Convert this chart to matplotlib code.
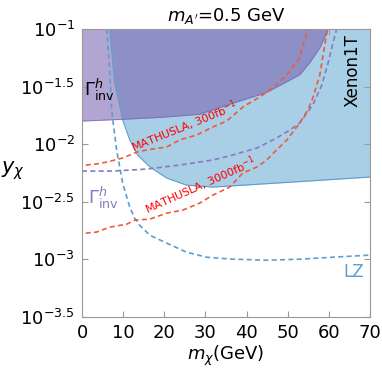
import numpy as np
import matplotlib
matplotlib.use("Agg")
import matplotlib.pyplot as plt

# curves: x = m_chi (GeV), y = log10(y_chi)
# Gamma_inv^h excluded region, lower edge (region runs up to the top)
ginv_x = [0, 11.6, 20.0, 28.6, 36.6, 44.9, 52.9, 55.5, 57.8, 59.0, 59.7]
ginv_y = [-1.799, -1.781, -1.765, -1.740, -1.645, -1.550, -1.398, -1.285, -1.163, -1.07, -1.0]

# Xenon1T excluded region, lower edge
xen_x = [6.7, 7.95, 9.9, 11.6, 13.5, 16.5, 20.6, 25.4, 31.8, 50.5, 70.0]
xen_y = [-1.0, -1.469, -1.790, -1.963, -2.094, -2.198, -2.294, -2.355, -2.372, -2.330, -2.285]

# LZ projection
lz_x = [6.0, 6.7, 7.2, 8.4, 9.9, 11.6, 12.8, 14.0, 16.5, 20.6, 25.4, 30.3, 36.6, 44.9, 52.9, 60.9, 69.9]
lz_y = [-0.998, -1.355, -1.703, -2.050, -2.338, -2.546, -2.642, -2.703, -2.790, -2.859, -2.937,
        -2.981, -2.998, -3.007, -2.998, -2.981, -2.963]

# Gamma_inv^h projection
gp_x = [0, 7.5, 15.7, 23.7, 31.8, 36.6, 42.5, 47.3, 50.5, 52.9, 56.1, 58.3, 59.7, 60.9, 61.9]
gp_y = [-2.233, -2.233, -2.216, -2.181, -2.137, -2.094, -2.033, -1.946, -1.877, -1.816,
        -1.659, -1.485, -1.311, -1.137, -0.998]

# MATHUSLA 300 fb^-1
m300_x = [0.9, 3.5, 6.0, 9.9, 11.6, 13.3, 15.7, 20.6, 23.7, 27.9, 31.8, 35.2, 39.1, 43.2,
          46.4, 49.8, 52.9, 54.9]
m300_y = [-2.181, -2.172, -2.155, -2.120, -2.094, -2.068, -2.050, -2.024, -1.963, -1.920,
          -1.850, -1.798, -1.677, -1.590, -1.511, -1.398, -1.250, -0.998]

# MATHUSLA 3000 fb^-1
m3000_x = [0.9, 3.5, 6.7, 10.9, 12.8, 16.5, 20.6, 24.5, 28.6, 31.8, 35.9, 39.1, 42.5, 44.9,
           47.3, 49.8, 52.9, 54.9, 56.1, 57.8, 59.0, 59.7]
m3000_y = [-2.772, -2.763, -2.720, -2.694, -2.659, -2.650, -2.598, -2.572, -2.511, -2.442,
           -2.372, -2.250, -2.198, -2.137, -2.050, -1.963, -1.816, -1.703, -1.598, -1.398,
           -1.137, -0.998]

ytick_pow = [-1, -1.5, -2, -2.5, -3, -3.5]
ytick_lab = [r'$10^{-1}$', r'$10^{-1.5}$', r'$10^{-2}$', r'$10^{-2.5}$', r'$10^{-3}$', r'$10^{-3.5}$']
xticks = [0, 10, 20, 30, 40, 50, 60, 70]

blue_fill = '#a8cfe6'
purple_fill = '#7861b0'
red = '#ef5a3a'

fig = plt.figure(figsize=(3.82, 3.70), dpi=100)
ax = fig.add_axes([0.2147, 0.1432, 0.7539, 0.7784])
ax.set_yscale('log')
top = 10 ** -1.0

# filled regions
ax.fill_between(xen_x, 10 ** np.array(xen_y), top, color=blue_fill, lw=0)
ax.plot(xen_x, 10 ** np.array(xen_y), color='#5c9ccc', lw=0.8)
ax.fill_between(ginv_x, 10 ** np.array(ginv_y), top, color=purple_fill, alpha=0.57, lw=0)
ax.plot(ginv_x, 10 ** np.array(ginv_y), color='#7a68b4', lw=0.7, alpha=0.8)

# dashed projections
dash = (3, 2)
ax.plot(lz_x, 10 ** np.array(lz_y), color='#5a9fd0', lw=1.2, dashes=dash)
ax.plot(gp_x, 10 ** np.array(gp_y), color='#8a78c0', lw=1.2, dashes=dash)
ax.plot(m300_x, 10 ** np.array(m300_y), color=red, lw=1.2, dashes=dash)
ax.plot(m3000_x, 10 ** np.array(m3000_y), color=red, lw=1.2, dashes=dash)

ax.set_xlim(0, 70)
ax.set_ylim(10 ** -3.5, top)
ax.set_xticks(xticks)
ax.set_yticks([10 ** p for p in ytick_pow])
ax.set_yticklabels(ytick_lab)
ax.minorticks_off()
ax.tick_params(direction='in', length=4, color='#999999', labelsize=13,
               top=True, right=True, pad=5)
for s in ax.spines.values():
    s.set_color('#999999')

# labels
ax.text(0.4, 10 ** -1.53, r'$\Gamma^h_{\rm inv}$', fontsize=13, color='black', va='center')
ax.text(1.4, 10 ** -2.47, r'$\Gamma^h_{\rm inv}$', fontsize=13, color='#8a78c0', va='center')
ax.text(65.8, 10 ** -1.36, 'Xenon1T', fontsize=12, rotation=90, ha='center', va='center')
ax.text(66.1, 10 ** -3.11, 'LZ', fontsize=12, color='#5a9fd0', ha='center', va='center')
ax.text(12.8, 10 ** -2.10, r'MATHUSLA, 300fb$^{-1}$', fontsize=8, color='red',
        rotation=22, rotation_mode='anchor', ha='left', va='bottom')
ax.text(16.2, 10 ** -2.64, r'MATHUSLA, 3000fb$^{-1}$', fontsize=8, color='red',
        rotation=24, rotation_mode='anchor', ha='left', va='bottom')

ax.set_title(r"$m_{A'}$=0.5 GeV", fontsize=13, pad=6)
ax.set_xlabel(r'$m_\chi$(GeV)', fontsize=13, labelpad=1)
fig.text(13 / 382, 1 - 171 / 370, r'$y_\chi$', fontsize=15, ha='center', va='center')

fig.savefig('out.png', dpi=100)
